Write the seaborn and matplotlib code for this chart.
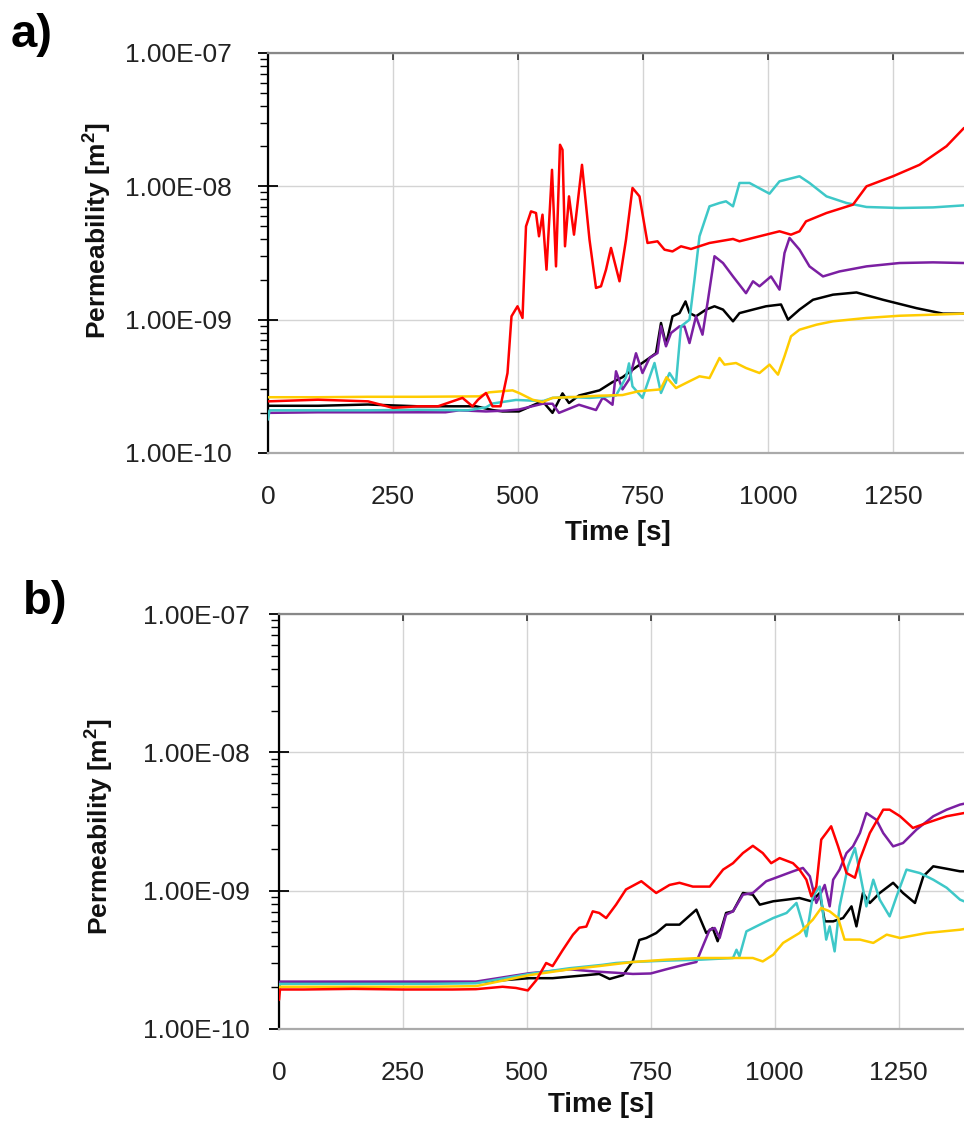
import numpy as np
import pandas as pd
import matplotlib
matplotlib.use("Agg")
import matplotlib.pyplot as plt
import seaborn as sns
from matplotlib.ticker import FixedLocator, LogLocator, FuncFormatter, NullFormatter

# ---------------- data ----------------
series_order = ["black", "purple", "cyan", "yellow", "red"]
palette = {"black": "#000000", "purple": "#7b1fa2", "cyan": "#3ec8c8",
           "yellow": "#ffcc00", "red": "#ff0000"}
x_ticks = [0, 250, 500, 750, 1000, 1250]
y_ticks = [1e-10, 1e-9, 1e-8, 1e-7]
panel_labels = ["a)", "b)"]

# Panel a
a_red_t = [0, 100, 200, 250, 300, 340, 389, 409, 420, 436, 449, 465, 479, 487, 499, 509, 516, 526, 536, 542,
           549, 557, 568, 576, 584, 589, 594, 602, 612, 628, 643, 656, 666, 676, 686, 703, 716, 729, 743, 759,
           779, 793, 809, 826, 846, 883, 930, 943, 996, 1023, 1046, 1063, 1076, 1117, 1170, 1197, 1250, 1303,
           1357, 1392]
a_red_k = [2.44e-10, 2.51e-10, 2.44e-10, 2.18e-10, 2.24e-10, 2.24e-10, 2.59e-10, 2.24e-10, 2.51e-10, 2.82e-10,
           2.24e-10, 2.24e-10, 3.98e-10, 1.06e-9, 1.26e-9, 1.03e-9, 5.01e-9, 6.49e-9, 6.31e-9, 4.22e-9,
           6.13e-9, 2.37e-9, 1.33e-8, 2.51e-9, 2.05e-8, 1.88e-8, 3.55e-9, 8.41e-9, 4.34e-9, 1.45e-8,
           3.98e-9, 1.73e-9, 1.78e-9, 2.37e-9, 3.45e-9, 1.94e-9, 3.98e-9, 9.72e-9, 8.41e-9, 3.76e-9,
           3.87e-9, 3.35e-9, 3.25e-9, 3.55e-9, 3.39e-9, 3.76e-9, 4.03e-9, 3.87e-9, 4.34e-9, 4.6e-9,
           4.34e-9, 4.6e-9, 5.46e-9, 6.31e-9, 7.29e-9, 1.0e-8, 1.19e-8, 1.45e-8, 2.0e-8, 2.74e-8]

a_cyan_t = [0, 3, 100, 200, 300, 400, 436, 449, 496, 550, 569, 602, 643, 662, 696, 716, 722, 729, 749, 773,
            786, 803, 816, 826, 843, 853, 863, 883, 903, 916, 930, 943, 963, 1003, 1023, 1063, 1083, 1117,
            1157, 1197, 1263, 1330, 1392]
a_cyan_k = [1.78e-10, 2.09e-10, 2.09e-10, 2.09e-10, 2.11e-10, 2.09e-10, 2.2e-10, 2.35e-10, 2.5e-10, 2.45e-10,
            2.59e-10, 2.63e-10, 2.59e-10, 2.62e-10, 2.7e-10, 3.7e-10, 4.7e-10, 3.16e-10, 2.59e-10, 4.73e-10,
            2.82e-10, 3.98e-10, 3.35e-10, 8.91e-10, 1.0e-9, 2.0e-9, 4.22e-9, 7.08e-9, 7.5e-9, 7.72e-9,
            7.08e-9, 1.06e-8, 1.06e-8, 8.81e-9, 1.09e-8, 1.19e-8, 1.06e-8, 8.41e-9,
            7.5e-9, 7.0e-9, 6.88e-9, 6.95e-9, 7.2e-9]

a_purple_t = [0, 100, 200, 300, 355, 382, 436, 476, 502, 549, 569, 582, 622, 656, 669, 676, 689, 696, 709, 723,
              736, 749, 763, 779, 786, 796, 806, 823, 833, 843, 856, 869, 880, 893, 910, 930, 956, 970, 983,
              1006, 1023, 1033, 1043, 1063, 1083, 1110, 1143, 1197, 1263, 1330, 1392]
a_purple_k = [2.0e-10, 2.02e-10, 2.02e-10, 2.02e-10, 2.02e-10, 2.09e-10, 2.05e-10, 2.08e-10, 2.12e-10, 2.34e-10,
              2.34e-10, 2.0e-10, 2.3e-10, 2.1e-10, 2.59e-10, 2.51e-10, 2.3e-10, 4.1e-10, 3.0e-10, 3.6e-10,
              5.6e-10, 3.98e-10, 5.16e-10, 5.62e-10, 8.91e-10, 6.31e-10, 7.94e-10, 8.91e-10, 8.91e-10,
              6.68e-10, 1.06e-9, 7.72e-10, 1.41e-9, 2.99e-9, 2.66e-9, 2.11e-9, 1.58e-9, 1.94e-9, 1.78e-9,
              2.11e-9, 1.68e-9, 3.16e-9, 4.1e-9, 3.35e-9, 2.51e-9, 2.11e-9, 2.3e-9, 2.51e-9, 2.66e-9,
              2.69e-9, 2.66e-9]

a_black_t = [0, 100, 200, 300, 416, 449, 469, 502, 549, 569, 589, 602, 622, 663, 689, 709, 736, 756, 776, 786,
             796, 809, 823, 835, 843, 856, 876, 893, 910, 930, 943, 970, 996, 1026, 1040, 1063, 1090,
             1130, 1177, 1230, 1297, 1350, 1392]
a_black_k = [2.26e-10, 2.26e-10, 2.31e-10, 2.24e-10, 2.24e-10, 2.1e-10, 2.05e-10, 2.05e-10, 2.45e-10, 2.0e-10,
             2.8e-10, 2.37e-10, 2.7e-10, 2.95e-10, 3.4e-10, 3.7e-10, 4.4e-10, 4.95e-10, 5.6e-10, 9.44e-10,
             6.5e-10, 1.06e-9, 1.12e-9, 1.37e-9, 1.12e-9, 1.06e-9, 1.19e-9, 1.26e-9,
             1.19e-9, 9.72e-10, 1.12e-9, 1.19e-9, 1.26e-9, 1.3e-9, 1.0e-9, 1.19e-9, 1.41e-9,
             1.54e-9, 1.6e-9, 1.41e-9, 1.22e-9, 1.11e-9, 1.11e-9]

a_yellow_t = [0, 100, 200, 300, 423, 442, 489, 502, 529, 549, 569, 622, 663, 709, 740, 785, 797, 816, 836, 863,
              883, 903, 913, 936, 956, 983, 1003, 1020, 1033, 1046, 1063, 1097, 1130, 1197, 1263, 1330, 1392]
a_yellow_k = [2.62e-10, 2.62e-10, 2.64e-10, 2.64e-10, 2.66e-10, 2.85e-10, 2.95e-10, 2.82e-10, 2.51e-10, 2.41e-10,
              2.59e-10, 2.64e-10, 2.69e-10, 2.72e-10, 2.9e-10, 3.0e-10, 3.7e-10, 3.07e-10, 3.35e-10, 3.76e-10,
              3.65e-10, 5.16e-10, 4.6e-10, 4.73e-10, 4.34e-10, 3.98e-10, 4.6e-10, 3.87e-10, 5.31e-10, 7.5e-10,
              8.41e-10, 9.17e-10, 9.72e-10, 1.03e-9, 1.07e-9, 1.09e-9, 1.11e-9]

# Panel b
b_red_t = [0, 2, 50, 150, 250, 350, 397, 451, 478, 502, 519, 539, 552, 572, 593, 606, 620, 633, 646, 660,
           680, 700, 731, 761, 788, 808, 835, 869, 896, 916, 936, 956, 976, 993, 1010, 1037, 1050, 1064, 1074,
           1084, 1094, 1104, 1114, 1128, 1145, 1162, 1172, 1192, 1219, 1232, 1253, 1279, 1306, 1347, 1382]
b_red_k = [1.62e-10, 1.93e-10, 1.93e-10, 1.95e-10, 1.93e-10, 1.93e-10, 1.94e-10, 2.02e-10, 1.98e-10, 1.9e-10,
           2.25e-10, 3.0e-10, 2.85e-10, 3.7e-10, 4.8e-10, 5.4e-10, 5.5e-10, 7.09e-10, 6.9e-10, 6.34e-10,
           7.92e-10, 1.02e-9, 1.17e-9, 9.62e-10, 1.1e-9, 1.14e-9, 1.07e-9, 1.07e-9, 1.42e-9, 1.58e-9,
           1.87e-9, 2.11e-9, 1.87e-9, 1.58e-9, 1.72e-9, 1.58e-9, 1.42e-9, 1.2e-9, 9.1e-10,
           1.07e-9, 2.34e-9, 2.61e-9, 2.92e-9, 2.09e-9, 1.34e-9, 1.24e-9, 1.68e-9, 2.61e-9, 3.85e-9,
           3.85e-9, 3.45e-9, 2.84e-9, 3.08e-9, 3.45e-9, 3.64e-9]

b_purple_t = [0, 2, 100, 200, 300, 397, 505, 586, 640, 680, 714, 750, 781, 815, 842, 855, 869, 879, 889, 902,
              916, 936, 956, 983, 1010, 1037, 1057, 1071, 1084, 1101, 1111, 1118, 1131, 1145, 1158, 1172, 1185,
              1205, 1219, 1239, 1259, 1286, 1320, 1347, 1374, 1382]
b_purple_k = [2.0e-10, 2.2e-10, 2.2e-10, 2.2e-10, 2.2e-10, 2.2e-10, 2.53e-10, 2.7e-10, 2.6e-10, 2.55e-10,
              2.5e-10, 2.52e-10, 2.7e-10, 2.9e-10, 3.05e-10, 3.96e-10, 5.23e-10, 5.37e-10, 4.55e-10, 6.71e-10,
              7.09e-10, 9.35e-10, 9.62e-10, 1.17e-9, 1.27e-9, 1.38e-9, 1.46e-9, 1.27e-9, 8.15e-10, 1.1e-9,
              7.7e-10, 1.2e-9, 1.42e-9, 1.87e-9, 2.09e-9, 2.61e-9, 3.64e-9,
              3.26e-9, 2.61e-9, 2.09e-9, 2.21e-9, 2.76e-9, 3.45e-9, 3.85e-9, 4.19e-9, 4.25e-9]

b_black_t = [0, 2, 100, 200, 300, 400, 505, 552, 620, 646, 667, 694, 714, 727, 741, 761, 781, 808, 842, 862, 875,
             885, 902, 916, 936, 956, 970, 997, 1024, 1050, 1074, 1091, 1101, 1118, 1138, 1155, 1165, 1178,
             1192, 1212, 1239, 1259, 1283, 1300, 1320, 1347, 1374, 1382]
b_black_k = [2.0e-10, 2.18e-10, 2.18e-10, 2.18e-10, 2.18e-10, 2.18e-10, 2.33e-10, 2.33e-10, 2.45e-10, 2.5e-10,
             2.3e-10, 2.45e-10, 3.1e-10, 4.4e-10, 4.55e-10, 4.94e-10, 5.68e-10, 5.68e-10, 7.29e-10, 4.94e-10,
             5.37e-10, 4.31e-10, 6.9e-10, 7.09e-10, 9.62e-10, 9.35e-10, 7.92e-10, 8.38e-10, 8.61e-10, 8.85e-10,
             8.38e-10, 9.62e-10, 6.0e-10, 6.0e-10, 6.34e-10, 7.7e-10, 5.52e-10, 9.62e-10,
             8.15e-10, 9.62e-10, 1.14e-9, 9.62e-10, 8.15e-10, 1.27e-9, 1.5e-9, 1.44e-9, 1.38e-9, 1.38e-9]

b_cyan_t = [0, 2, 100, 200, 300, 397, 505, 586, 653, 680, 714, 781, 849, 916, 923, 929, 943, 963, 997, 1024,
            1044, 1054, 1064, 1077, 1091, 1104, 1111, 1121, 1131, 1148, 1162, 1172, 1185, 1199, 1212, 1232,
            1246, 1266, 1293, 1320, 1347, 1374, 1382]
b_cyan_k = [1.9e-10, 2.12e-10, 2.12e-10, 2.12e-10, 2.12e-10, 2.14e-10, 2.5e-10, 2.75e-10, 2.91e-10, 3.0e-10,
            3.05e-10, 3.12e-10, 3.17e-10, 3.26e-10, 3.74e-10, 3.35e-10, 5.08e-10, 5.52e-10, 6.34e-10, 6.9e-10,
            8.15e-10, 6.17e-10, 4.68e-10, 9.1e-10, 1.07e-9, 4.43e-10, 5.52e-10, 3.64e-10, 7.7e-10, 1.5e-9,
            2.03e-9, 1.34e-9, 7.7e-10, 1.2e-9, 8.61e-10, 6.52e-10,
            9.1e-10, 1.42e-9, 1.34e-9, 1.2e-9, 1.05e-9, 8.61e-10, 8.38e-10]

b_yellow_t = [0, 2, 100, 200, 300, 397, 505, 586, 646, 680, 714, 781, 849, 916, 956, 976, 997, 1017, 1050, 1077,
              1094, 1111, 1128, 1141, 1172, 1199, 1226, 1253, 1306, 1374, 1382]
b_yellow_k = [1.8e-10, 2.02e-10, 2.02e-10, 2.02e-10, 2.02e-10, 2.04e-10, 2.45e-10, 2.7e-10, 2.85e-10, 2.95e-10,
              3.05e-10, 3.17e-10, 3.26e-10, 3.26e-10, 3.26e-10, 3.08e-10, 3.44e-10, 4.19e-10, 4.94e-10, 6.17e-10,
              7.5e-10, 7.09e-10, 6.34e-10, 4.43e-10, 4.43e-10, 4.19e-10, 4.81e-10, 4.55e-10, 4.94e-10, 5.22e-10,
              5.28e-10]


def build_frame(series):
    rows = []
    for name, (ts, ks) in series.items():
        for t, k in zip(ts, ks):
            rows.append({"series": name, "t": t, "k": k})
    return pd.DataFrame(rows)


df_a = build_frame({"black": (a_black_t, a_black_k), "purple": (a_purple_t, a_purple_k),
                    "cyan": (a_cyan_t, a_cyan_k), "yellow": (a_yellow_t, a_yellow_k),
                    "red": (a_red_t, a_red_k)})
df_b = build_frame({"black": (b_black_t, b_black_k), "purple": (b_purple_t, b_purple_k),
                    "cyan": (b_cyan_t, b_cyan_k), "yellow": (b_yellow_t, b_yellow_k),
                    "red": (b_red_t, b_red_k)})

# ---------------- style ----------------
sns.set_style("white")
plt.rcParams['font.family'] = ['Liberation Sans', 'DejaVu Sans']
plt.rcParams['mathtext.fontset'] = 'custom'
plt.rcParams['mathtext.rm'] = 'Liberation Sans'
plt.rcParams['mathtext.bf'] = 'Liberation Sans:bold'
plt.rcParams['text.color'] = '#1a1a1a'
plt.rcParams['axes.labelcolor'] = '#111111'
plt.rcParams['xtick.labelcolor'] = '#222222'
plt.rcParams['ytick.labelcolor'] = '#222222'

FS = 19
W, H = 964, 1123
fig = plt.figure(figsize=(W / 100, H / 100), dpi=100)

# axes geometry in pixels: (left, top, bottom, xmax)
geo = {
    "a": (268, 53, 453, 1392),
    "b": (279, 614, 1029, 1382),
}
ytick_pad = {"a": 19, "b": 14}
xlabel_pos = {"a": (0.503, -0.168), "b": (0.47, -0.152)}
ylabel_pos = {"a": (-0.223, 0.557), "b": (-0.239, 0.487)}


def fmt(v, pos):
    return f"{v:.2E}"


for key, df in (("a", df_a), ("b", df_b)):
    left, top, bottom, xmax = geo[key]
    ax = fig.add_axes([left / W, 1 - bottom / H, 1 - left / W, (bottom - top) / H])
    sns.lineplot(data=df, x="t", y="k", hue="series", hue_order=series_order, palette=palette,
                 estimator=None, sort=False, units="series", lw=1.8, legend=False, ax=ax, zorder=3)
    ax.set_yscale("log")
    ax.set_ylim(1e-10, 1e-7)
    ax.set_xlim(0, xmax)
    ax.xaxis.set_major_locator(FixedLocator(x_ticks))
    ax.yaxis.set_major_locator(FixedLocator(y_ticks))
    ax.yaxis.set_minor_locator(LogLocator(base=10, subs=np.arange(2, 10)))
    ax.yaxis.set_major_formatter(FuncFormatter(fmt))
    ax.yaxis.set_minor_formatter(NullFormatter())
    ax.grid(True, which="major", color="#d4d4d4", lw=1.0, zorder=0)
    ax.set_axisbelow(True)

    ax.tick_params(axis="y", which="major", direction="inout", length=14, width=1.3,
                   color="black", labelsize=FS, pad=ytick_pad[key], left=True, right=False)
    ax.tick_params(axis="y", which="minor", direction="out", length=6, width=1.0,
                   color="black", left=True, right=False)
    ax.tick_params(axis="x", which="major", direction="in", length=5, width=1.2, color="#333333",
                   top=True, bottom=False, labelbottom=True, labeltop=False, labelsize=FS, pad=23)

    ax.spines["right"].set_visible(False)
    ax.spines["left"].set_color("black")
    ax.spines["left"].set_linewidth(1.6)
    ax.spines["top"].set_color("#888888")
    ax.spines["top"].set_linewidth(1.6)
    ax.spines["bottom"].set_color("#aaaaaa")
    ax.spines["bottom"].set_linewidth(1.6)

    ax.set_xlabel("Time [s]", fontsize=FS + 1, fontweight="bold")
    ax.xaxis.set_label_coords(*xlabel_pos[key])
    ax.set_ylabel("Permeability [m$^{\\mathbf{2}}$]", fontsize=FS, fontweight="bold")
    ax.yaxis.set_label_coords(*ylabel_pos[key])

fig.text(11 / W, 1 - 13 / H, panel_labels[0], fontsize=34, fontweight="bold", ha="left", va="top",
         color="black")
fig.text(23 / W, 1 - 580 / H, panel_labels[1], fontsize=34, fontweight="bold", ha="left", va="top",
         color="black")

fig.savefig("out.png", dpi=100)
